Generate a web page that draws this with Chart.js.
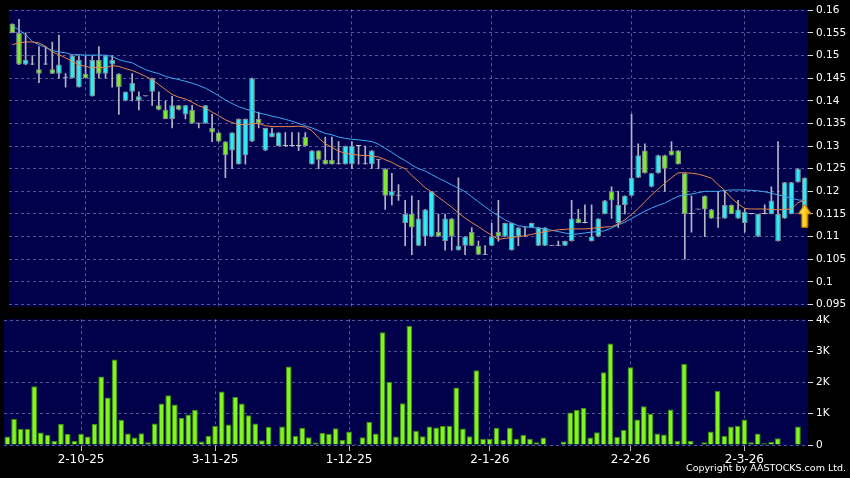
<!DOCTYPE html>
<html>
<head>
<meta charset="utf-8">
<script src="https://cdn.jsdelivr.net/npm/chart.js@4"></script>
<style>
  body { margin: 0; background: #000; width: 850px; height: 478px; overflow: hidden; position: relative; font-family: "DejaVu Sans", sans-serif; }
  canvas { position: absolute; left: 0; }
  #price { top: 0; }
  #volume { top: 310px; }
  #copy { position: absolute; right: 4px; top: 462px; color: #fff; font-size: 9.5px; white-space: nowrap; }
</style>
</head>
<body>
<canvas id="price" width="850" height="316"></canvas>
<canvas id="volume" width="850" height="168"></canvas>
<div id="copy">Copyright by AASTOCKS.com Ltd.</div>
<script>
// daily candles, oldest first
const open = [
  .157, .155, .148, .148, .147, .148, .147, .146, .145, .145,
  .143, .146, .141, .149, .146, .148, .146, .140, .142, .140,
  .141, .142, .139, .138, .136, .139, .137, .138, .135, .135,
  .134, .133, .131, .129, .126, .128, .131, .136, .129, .132,
  .130, .130, .130, .130, .132, .126, .129, .127, .127, .126,
  .126, .126, .130, .126, .126, .127, .125, .119, .119, .113,
  .115, .108, .110, .110, .111, .109, .114, .107, .108, .111,
  .108, .106, .108, .111, .110, .107, .110, .112, .112, .108,
  .108, .108, .108, .108, .109, .114, .113, .109, .110, .115,
  .120, .113, .117, .119, .123, .129, .121, .124, .128, .129,
  .129, .124, .115, .116, .119, .116, .114, .114, .117, .114,
  .113, .115, .110, .115, .115, .109, .114, .115, .122, .1155
];
const high = [
  .157, .158, .155, .150, .152, .152, .153, .1545, .146, .150,
  .150, .150, .150, .152, .150, .150, .146, .142, .146, .142,
  .141, .145, .142, .140, .141, .139, .139, .139, .135, .139,
  .137, .133, .131, .133, .136, .136, .145, .1375, .134, .134,
  .133, .133, .133, .133, .133, .129, .129, .132, .132, .131,
  .130, .131, .130, .130, .129, .127, .125, .124, .1215, .118,
  .119, .118, .116, .120, .115, .115, .114, .123, .110, .112,
  .109, .108, .113, .118, .113, .113, .112, .112, .113, .112,
  .112, .108, .109, .109, .118, .116, .117, .117, .114, .118,
  .121, .120, .119, .137, .1305, .1305, .124, .128, .128, .131,
  .129, .124, .119, .116, .119, .116, .120, .120, .117, .118,
  .116, .115, .115, .117, .121, .131, .122, .122, .125, .123
];
const low = [
  .155, .148, .148, .148, .144, .148, .146, .145, .143, .145,
  .143, .145, .141, .145, .145, .143, .137, .140, .140, .138,
  .141, .139, .138, .136, .134, .138, .136, .135, .134, .135,
  .131, .131, .123, .125, .126, .126, .131, .134, .129, .132,
  .130, .130, .130, .129, .130, .126, .125, .126, .126, .126,
  .126, .125, .126, .126, .125, .125, .116, .117, .118, .108,
  .106, .108, .108, .110, .110, .107, .107, .107, .106, .108,
  .106, .106, .108, .109, .110, .107, .108, .110, .112, .108,
  .108, .108, .108, .108, .109, .113, .113, .109, .110, .115,
  .114, .112, .115, .119, .123, .124, .121, .124, .120, .128,
  .126, .105, .111, .116, .110, .114, .112, .114, .115, .114,
  .111, .115, .110, .115, .115, .109, .114, .115, .122, .1155
];
const close = [
  .155, .148, .149, .148, .146, .148, .146, .148, .145, .150,
  .149, .145, .149, .146, .150, .149, .143, .142, .144, .141,
  .141, .145, .138, .136, .139, .138, .139, .135, .135, .139,
  .133, .131, .128, .133, .136, .136, .145, .135, .134, .133,
  .133, .130, .130, .130, .130, .129, .127, .126, .126, .126,
  .130, .130, .130, .126, .129, .127, .119, .120, .119, .115,
  .112, .114, .116, .120, .110, .114, .110, .108, .110, .108,
  .106, .106, .110, .110, .113, .113, .112, .112, .113, .112,
  .112, .108, .108, .109, .114, .113, .113, .110, .114, .118,
  .118, .117, .119, .123, .128, .124, .124, .128, .125, .128,
  .126, .115, .115, .116, .116, .114, .114, .117, .115, .116,
  .1155, .115, .115, .115, .118, .115, .122, .122, .125, .123
];
const volume = [
  270, 830, 520, 520, 1880, 400, 330, 130, 670, 350,
  130, 350, 270, 670, 2190, 1520, 2740, 810, 370, 240,
  380, 90, 690, 1330, 1590, 1300, 870, 980, 1130, 110,
  300, 620, 1710, 660, 1540, 1330, 950, 690, 150, 580,
  20, 590, 2510, 290, 550, 250, 80, 390, 350, 540,
  170, 430, 30, 250, 740, 370, 3610, 2020, 270, 1340,
  3810, 460, 280, 590, 560, 610, 620, 1840, 530, 280,
  2390, 190, 200, 550, 170, 550, 200, 320, 200, 90,
  240, 20, 0, 110, 1040, 1120, 1190, 240, 410, 2330,
  3250, 260, 480, 2490, 820, 1240, 1000, 370, 340, 1140,
  130, 2590, 130, 0, 90, 430, 1740, 290, 590, 620,
  820, 90, 370, 60, 100, 220, 0, 0, 590, 0
];
// 10-day (orange) and 20-day (blue) averages as drawn
const ma10 = [
  .1524, .1528, .1530, .1530, .1528, .1520, .1508, .1502, .1495, .1487,
  .1480, .1476, .1473, .1474, .1473, .1478, .1476, .1471, .1467, .1461,
  .1454, .1447, .1436, .1425, .1414, .1408, .1404, .1397, .1389, .1384,
  .1375, .1367, .1358, .1352, .1348, .1347, .1350, .1350, .1345, .1343,
  .1343, .1343, .1343, .1344, .1342, .1334, .1318, .1305, .1297, .1289,
  .1284, .1282, .1280, .1279, .1278, .1276, .1270, .1264, .1256, .1250,
  .1235, .1222, .1208, .1198, .1187, .1176, .1165, .1152, .1141, .1131,
  .1122, .1112, .1103, .1094, .1096, .1098, .1100, .1102, .1105, .1108,
  .1111, .1113, .1115, .1116, .1117, .1117, .1117, .1118, .1120, .1121,
  .1122, .1128, .1137, .1149, .1162, .1177, .1192, .1205, .1218, .1230,
  .1241, .1241, .1240, .1238, .1234, .1229, .1215, .1202, .1185, .1172,
  .1162, .1161, .1161, .1161, .1160, .1159, .1160, .1161, .1175, .1180
];
const ma20 = [
  .1565, .1557, .1546, .1531, .1524, .1518, .1511, .1508, .1506, .1502,
  .1502, .1501, .1501, .1501, .1501, .1498, .1491, .1487, .1484, .1476,
  .1469, .1464, .1460, .1454, .1450, .1447, .1443, .1439, .1434, .1428,
  .1420, .1411, .1402, .1394, .1387, .1382, .1378, .1373, .1370, .1366,
  .1363, .1359, .1355, .1350, .1345, .1340, .1334, .1328, .1325, .1320,
  .1317, .1315, .1314, .1312, .1310, .1304, .1295, .1286, .1276, .1268,
  .1258, .1250, .1245, .1237, .1229, .1222, .1214, .1207, .1199, .1188,
  .1177, .1166, .1155, .1146, .1137, .1130, .1124, .1122, .1120, .1119,
  .1117, .1114, .1111, .1108, .1105, .1106, .1108, .1110, .1111, .1113,
  .1119, .1126, .1132, .1140, .1148, .1156, .1163, .1169, .1174, .1182,
  .1189, .1192, .1194, .1197, .1200, .1200, .1200, .1202, .1203, .1203,
  .1203, .1202, .1201, .1199, .1196, .1192, .1189, .1185, .1181, .1180
];

const tickIdx = [11, 31, 51, 72, 93, 110];
const tickText = ['2-10-25', '3-11-25', '1-12-25', '2-1-26', '2-2-26', '2-3-26'];
const priceTicks = [0.095, 0.1, 0.105, 0.11, 0.115, 0.12, 0.125, 0.13, 0.135, 0.14, 0.145, 0.15, 0.155, 0.16];
const volTicks = [0, 1000, 2000, 3000, 4000];
const arrowIdx = [119];
const arrowPrice = [0.1146];

const UP = '#33e8f2';
const DOWN = '#80e832';
const FLAT = '#c0c0c8';
const GRID = 'rgba(150,160,205,0.55)';
const FONT = { family: 'DejaVu Sans', size: 10.5 };

const days = open.map((_, i) => i);

function bodyColor(i) {
  if (close[i] > open[i]) return UP;
  if (close[i] < open[i]) return DOWN;
  return FLAT;
}

// yellow up arrow used as a point style
function makeArrow() {
  const c = document.createElement('canvas');
  c.width = 14; c.height = 24;
  const g = c.getContext('2d');
  const grad = g.createLinearGradient(0, 0, 14, 0);
  grad.addColorStop(0, '#fff27a');
  grad.addColorStop(0.5, '#ffd21e');
  grad.addColorStop(1, '#e09a00');
  g.beginPath();
  g.moveTo(7, 0.5); g.lineTo(13.5, 10); g.lineTo(10, 10); g.lineTo(10, 23.5);
  g.lineTo(4, 23.5); g.lineTo(4, 10); g.lineTo(0.5, 10); g.closePath();
  g.fillStyle = grad; g.fill();
  g.strokeStyle = '#b37400'; g.lineWidth = 1; g.stroke();
  return c;
}

const plotBg = {
  id: 'plotBg',
  beforeDraw(chart) {
    const { ctx, chartArea: a } = chart;
    ctx.save();
    ctx.fillStyle = '#00004b';
    ctx.fillRect(a.left, a.top, a.width, a.height);
    ctx.restore();
  }
};

function xAxis(showLabels) {
  return {
    type: 'category',
    offset: true,
    grid: { offset: false, color: GRID, drawTicks: showLabels, tickLength: 5, tickColor: '#bbbbbb' },
    border: { display: false, dash: [3, 3] },
    afterBuildTicks: s => { s.ticks = tickIdx.map(v => ({ value: v })); },
    ticks: {
      display: showLabels, autoSkip: false, maxRotation: 0, color: '#ffffff',
      font: { family: 'DejaVu Sans', size: 12 }, padding: 2,
      callback: (v, i) => tickText[i]
    },
    afterFit: s => { s.height = showLabels ? 32 : 0; }
  };
}

function yAxis(min, max, list, fmt) {
  return {
    position: 'right', min, max,
    grid: { color: GRID, tickLength: 5, tickColor: '#dddddd' },
    border: { display: false, dash: [3, 3] },
    afterBuildTicks: s => { s.ticks = list.map(v => ({ value: v })); },
    ticks: { color: '#ffffff', font: FONT, padding: 3, callback: fmt },
    afterFit: s => { s.width = 42; }
  };
}

const common = {
  responsive: false,
  animation: false,
  events: [],
  plugins: { legend: { display: false }, tooltip: { enabled: false } }
};

new Chart(document.getElementById('price'), {
  type: 'bar',
  data: {
    labels: days,
    datasets: [
      {
        type: 'line', data: days.map(i => {
          const k = arrowIdx.indexOf(i);
          return k < 0 ? null : arrowPrice[k];
        }),
        showLine: false, pointStyle: makeArrow(), pointRadius: 8, order: -1
      },
      { type: 'line', data: ma10, borderColor: '#e8874a', borderWidth: 1, pointRadius: 0, tension: 0, order: 0 },
      { type: 'line', data: ma20, borderColor: '#40a8f2', borderWidth: 1, pointRadius: 0, tension: 0, order: 0 },
      {
        data: days.map(i => [Math.min(open[i], close[i]), Math.max(open[i], close[i])]),
        backgroundColor: days.map(bodyColor),
        borderColor: days.map(i => (open[i] === close[i] ? FLAT : '#7f9096')),
        borderWidth: 1, borderSkipped: false, minBarLength: 1,
        grouped: false, barPercentage: 0.85, categoryPercentage: 1, order: 1
      },
      {
        data: days.map(i => [low[i], high[i]]),
        backgroundColor: '#b4b4c4',
        barThickness: 1, grouped: false, order: 2
      }
    ]
  },
  options: {
    ...common,
    layout: { padding: { top: 8, left: 4, right: 0, bottom: 0 } },
    scales: {
      x: xAxis(false),
      y: yAxis(0.09451, 0.16022, priceTicks, v => String(+v.toFixed(3)))
    }
  },
  plugins: [plotBg]
});

new Chart(document.getElementById('volume'), {
  type: 'bar',
  data: {
    labels: days,
    datasets: [{
      data: volume,
      backgroundColor: '#80f520',
      borderColor: '#3f8f0a',
      borderWidth: 1,
      barPercentage: 0.85, categoryPercentage: 1
    }]
  },
  options: {
    ...common,
    layout: { padding: { top: 8, left: 4, right: 0, bottom: 0 } },
    scales: {
      x: xAxis(true),
      y: yAxis(-32, 4023, volTicks, v => (v === 0 ? '0' : v / 1000 + 'K'))
    }
  },
  plugins: [plotBg]
});
</script>
</body>
</html>
